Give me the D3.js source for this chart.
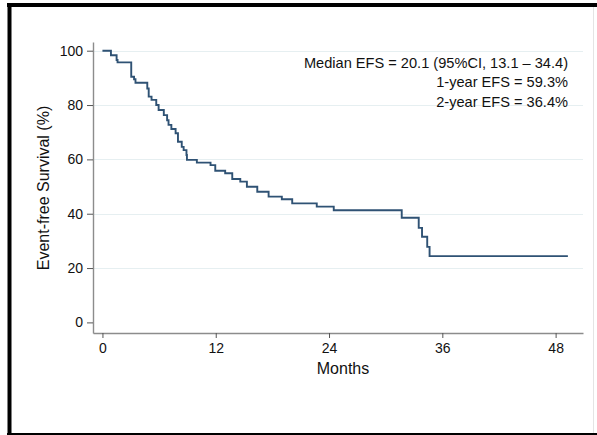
<!DOCTYPE html>
<html>
<head>
<meta charset="utf-8">
<script src="https://cdn.jsdelivr.net/npm/d3@7"></script>
<style>
    body { margin: 0; background: #fff; }
    svg { display: block; font-family: "Liberation Sans", Arial, sans-serif; }
</style>
</head>
<body>
<svg width="597" height="435"></svg>
<script>
// step times (months) and survival (%) after each event
var eventTimes = [0, 0.9, 1.5, 1.6, 3.05, 3.35, 3.5, 4.75, 4.9, 5.2, 5.7, 5.95, 6.5, 6.85, 7.0,
    7.3, 7.75, 8.0, 8.4, 8.6, 8.9, 8.95, 10.0, 11.45, 11.95, 13.0, 13.75, 14.6, 15.3,
    16.4, 17.6, 19.0, 20.1, 22.7, 24.5, 31.7, 33.5, 33.85, 34.4, 34.65];
var survival = [100, 98.3, 96.6, 95.7, 90.4, 89.5, 88.2, 86.1, 83.1, 81.9, 80.0, 78.2, 76.3, 74.4, 72.7,
    71.2, 69.6, 66.5, 64.6, 63.4, 61.6, 59.8, 58.8, 57.9, 55.8, 54.9, 52.8, 51.8, 49.9,
    48.1, 46.3, 45.3, 43.8, 42.6, 41.3, 38.5, 34.8, 31.5, 27.8, 24.4];
var lastFollowUp = 49.3;

var xTicks = [0, 12, 24, 36, 48];
var yTicks = [0, 20, 40, 60, 80, 100];
var notes = ["Median EFS = 20.1 (95%CI, 13.1 \u2013 34.4)", "1-year EFS = 59.3%", "2-year EFS = 36.4%"];

var svg = d3.select("svg");

// outer frame
svg.append("line").attr("x1", 7).attr("x2", 597).attr("y1", 5).attr("y2", 5)
    .attr("stroke", "#000").attr("stroke-width", 4);
svg.append("line").attr("x1", 9.5).attr("x2", 9.5).attr("y1", 3).attr("y2", 435)
    .attr("stroke", "#000").attr("stroke-width", 4);
svg.append("line").attr("x1", 7).attr("x2", 597).attr("y1", 434).attr("y2", 434)
    .attr("stroke", "#000").attr("stroke-width", 2);
svg.append("line").attr("x1", 593.5).attr("x2", 593.5).attr("y1", 7).attr("y2", 433)
    .attr("stroke", "#e4e4e4").attr("stroke-width", 1);

var x = d3.scaleLinear().domain([-1, 50.9]).range([93, 583]);
var y = d3.scaleLinear().domain([-3.9, 103.2]).range([333, 42]);

// gridlines
svg.append("g")
    .selectAll("line")
    .data(yTicks.filter((d) => d > 0))
    .enter()
    .append("line")
    .attr("x1", x.range()[0])
    .attr("x2", x.range()[1])
    .attr("y1", (d) => Math.round(y(d)) + 0.5)
    .attr("y2", (d) => Math.round(y(d)) + 0.5)
    .attr("stroke", "#e6eff1")
    .attr("stroke-width", 1.2);

// axes
var xAxis = svg.append("g")
    .attr("transform", "translate(0,333)")
    .call(d3.axisBottom(x).tickValues(xTicks).tickSize(5).tickSizeOuter(0).tickPadding(5));
var yAxis = svg.append("g")
    .attr("transform", "translate(93,0)")
    .call(d3.axisLeft(y).tickValues(yTicks).tickSize(6).tickSizeOuter(0).tickPadding(4));

[xAxis, yAxis].forEach((g) => {
    g.select(".domain").attr("stroke", "#8c8c8c").attr("stroke-width", 1.4);
    g.selectAll(".tick line").attr("stroke", "#555");
    g.selectAll(".tick text").attr("fill", "#111").style("font-size", "14px");
});

// KM curve
var pts = eventTimes.map((t, i) => [t, survival[i]]);
pts.push([lastFollowUp, survival[survival.length - 1]]);
var line = d3.line()
    .x((d) => x(d[0]))
    .y((d) => y(d[1]))
    .curve(d3.curveStepAfter);
svg.append("path")
    .datum(pts)
    .attr("d", line)
    .attr("fill", "none")
    .attr("stroke", "#2f5274")
    .attr("stroke-width", 1.9);

// titles
svg.append("text")
    .attr("x", 343).attr("y", 374)
    .attr("text-anchor", "middle")
    .attr("fill", "#111")
    .style("font-size", "16px")
    .text("Months");
svg.append("text")
    .attr("transform", "translate(49,188) rotate(-90)")
    .attr("text-anchor", "middle")
    .attr("fill", "#111")
    .style("font-size", "16px")
    .text("Event-free Survival (%)");

// annotations
svg.append("g")
    .selectAll("text")
    .data(notes)
    .enter()
    .append("text")
    .attr("x", 568)
    .attr("y", (d, i) => 67.8 + i * 19.5)
    .attr("text-anchor", "end")
    .attr("fill", "#111")
    .style("font-size", "14.6px")
    .text((d) => d);
</script>
</body>
</html>
